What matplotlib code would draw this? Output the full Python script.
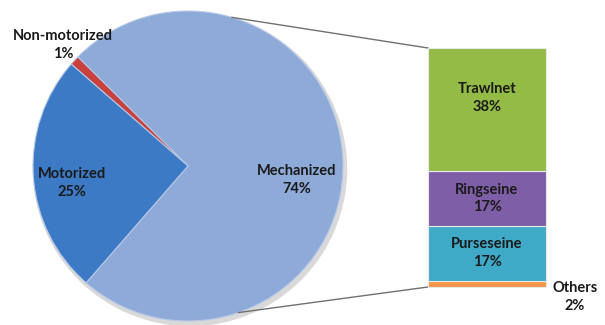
import numpy as np
import matplotlib
matplotlib.use("Agg")
import matplotlib.pyplot as plt

# Pie: fishing craft by type
pie_labels = ["Mechanized", "Non-motorized", "Motorized"]
pie_values = [74, 1, 25]
pie_colors = ["#8eaad9", "#c8413c", "#3c7ac6"]

# Bar: breakdown of mechanized craft by gear (bottom to top)
bar_labels = ["Others", "Purseseine", "Ringseine", "Trawlnet"]
bar_values = [2, 17, 17, 38]
bar_colors = ["#f79646", "#3fa9c8", "#7e5ea6", "#93bb45"]

plt.rcParams["font.family"] = ["Lato", "DejaVu Sans"]

W, H = 605, 325
fig = plt.figure(figsize=(W / 100, H / 100), dpi=100)
ax = fig.add_axes([0, 0, 1, 1])

# Pie geometry (pixel units, y upward)
cx, cy, r = 188, 159, 155
start = 228.9
# soft shadow under the pie
ax.add_patch(plt.Circle((cx + 2, cy - 3), r + 1.5, color="#d9d9d9", zorder=0))
wedges, _ = ax.pie(pie_values, colors=pie_colors, startangle=start,
                   counterclock=True, center=(cx, cy), radius=r,
                   wedgeprops=dict(edgecolor="#b8c8e6", linewidth=0.8))
ax.set_xlim(0, W)
ax.set_ylim(0, H)
ax.set_aspect("equal")
ax.axis("off")

# Bar geometry
bar_x, bar_w = 487, 118
bar_top = 277
bar_bot = 38
scale = (bar_top - bar_bot) / sum(bar_values)
bottoms = bar_bot + np.concatenate([[0], np.cumsum(bar_values)[:-1]]) * scale
heights = np.array(bar_values) * scale
ax.bar([bar_x] * len(bar_values), heights, width=bar_w, bottom=bottoms,
       color=bar_colors, edgecolor="#e8e8e8", linewidth=0.8, zorder=3)

# Connector lines from pie edge to bar corners
a_top, a_bot = np.deg2rad(73.5), np.deg2rad(-71)
left = bar_x - bar_w / 2
ax.plot([cx + r * np.cos(a_top), left], [cy + r * np.sin(a_top), bar_top],
        color="#707070", lw=1.0, zorder=2)
ax.plot([cx + r * np.cos(a_bot), left], [cy + r * np.sin(a_bot), bar_bot],
        color="#707070", lw=1.0, zorder=2)

fs = 10.5
txt = dict(ha="center", va="center", fontsize=fs, fontweight="bold",
           color="#1a1a1a", linespacing=1.3, zorder=5)

# Pie labels
pie_pos = {"Mechanized": (297, 145), "Non-motorized": (63, 280),
           "Motorized": (72, 142)}
for lab, val in zip(pie_labels, pie_values):
    x, y = pie_pos[lab]
    ax.text(x, y, f"{lab}\n{val}%", **txt)

# Bar labels
for lab, val, b, h in zip(bar_labels, bar_values, bottoms, heights):
    if lab == "Others":
        ax.text(575, 28, f"{lab}\n{val}%", **txt)
    elif lab == "Trawlnet":
        ax.text(bar_x, 227, f"{lab}\n{val}%", **txt)
    else:
        ax.text(bar_x, b + h / 2, f"{lab}\n{val}%", **txt)

fig.savefig("out.png", dpi=100)
